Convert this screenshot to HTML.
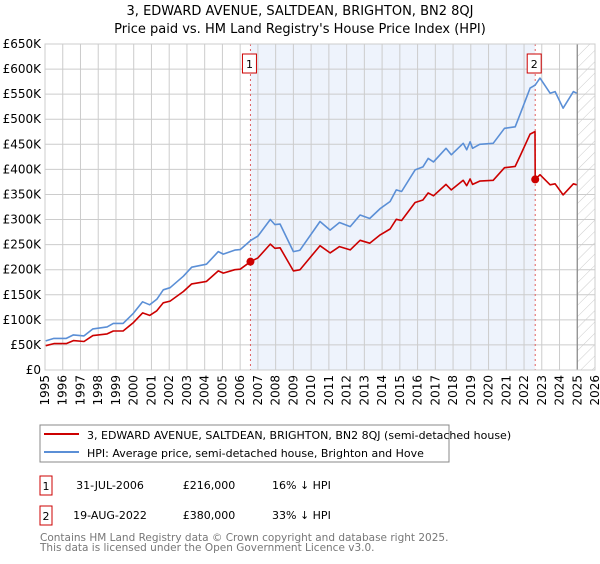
<!DOCTYPE html>
<html><head><meta charset="utf-8"><style>
body{margin:0;background:#fff;font-family:"DejaVu Sans","Liberation Sans",sans-serif;}
svg text{font-family:"DejaVu Sans","Liberation Sans",sans-serif;}
</style></head><body>
<svg id="chart" width="600" height="560" viewBox="0 0 600 560" xmlns="http://www.w3.org/2000/svg">
<defs><pattern id="hatch" width="8" height="8" patternUnits="userSpaceOnUse" patternTransform="rotate(45)"><line x1="0" y1="0" x2="0" y2="8" stroke="#ccc" stroke-width="1"/></pattern></defs>
<text x="300" y="15" text-anchor="middle" font-size="13">3, EDWARD AVENUE, SALTDEAN, BRIGHTON, BN2 8QJ</text>
<text x="300" y="33" text-anchor="middle" font-size="13">Price paid vs. HM Land Registry's House Price Index (HPI)</text>
<g id="plot"></g>
<rect x="40" y="425" width="409" height="37" fill="#fff" stroke="#888"/>
<line x1="44" y1="434" x2="79" y2="434" stroke="#cc0000" stroke-width="2"/>
<text x="87" y="439" font-size="11">3, EDWARD AVENUE, SALTDEAN, BRIGHTON, BN2 8QJ (semi-detached house)</text>
<line x1="44" y1="452" x2="79" y2="452" stroke="#5b8fd6" stroke-width="2"/>
<text x="87" y="457" font-size="11">HPI: Average price, semi-detached house, Brighton and Hove</text>
<rect x="40" y="476" width="12" height="19" fill="#fff" stroke="#cc0000"/>
<text x="46" y="490" text-anchor="middle" font-size="11">1</text>
<text x="110" y="489" text-anchor="middle" font-size="11">31-JUL-2006</text>
<text x="209" y="489" text-anchor="middle" font-size="11">£216,000</text>
<text x="272" y="489" font-size="11">16% ↓ HPI</text>
<rect x="40" y="506" width="12" height="19" fill="#fff" stroke="#cc0000"/>
<text x="46" y="520" text-anchor="middle" font-size="11">2</text>
<text x="110" y="519" text-anchor="middle" font-size="11">19-AUG-2022</text>
<text x="209" y="519" text-anchor="middle" font-size="11">£380,000</text>
<text x="272" y="519" font-size="11">33% ↓ HPI</text>
<text x="40" y="541" font-size="10.5" fill="#777">Contains HM Land Registry data © Crown copyright and database right 2025.</text>
<text x="40" y="551" font-size="10.5" fill="#777">This data is licensed under the Open Government Licence v3.0.</text>
</svg>
<script>
const hpiYears=[1995.04,1995.5,1996.2,1996.6,1997.2,1997.7,1998.5,1998.85,1999.4,1999.98,2000.5,2000.9,2001.3,2001.67,2002.05,2002.8,2003.27,2004.1,2004.77,2005.05,2005.7,2006,2006.58,2007.0,2007.7,2007.96,2008.25,2009,2009.28,2009.37,2010.5,2011.07,2011.6,2012.2,2012.76,2013.3,2013.9,2014.45,2014.8,2015.1,2015.86,2016.3,2016.6,2016.9,2017.6,2017.9,2018.57,2018.77,2018.96,2019.1,2019.5,2020.26,2020.9,2021.5,2021.8,2022.34,2022.63,2022.9,2023.47,2023.75,2024.2,2024.78,2024.97];
const hpiValues=[58,63,63,70,68,82,86,93,93,113,136,130,141,160,164,187,205,211,236,231,239,240,258,267,300,290,291,236,238,239,296,279,294,286,309,302,322,336,359,356,399,405,422,415,442,429,452,439,455,442,450,452,482,485,512,562,568,582,552,555,522,555,552];
const priceYears=[1995.04,1995.5,1996.2,1996.6,1997.2,1997.7,1998.5,1998.85,1999.4,1999.98,2000.5,2000.9,2001.3,2001.67,2002.05,2002.8,2003.27,2004.1,2004.77,2005.05,2005.7,2006,2006.58,2007.0,2007.7,2007.96,2008.25,2009,2009.28,2009.37,2010.5,2011.07,2011.6,2012.2,2012.76,2013.3,2013.9,2014.45,2014.8,2015.1,2015.86,2016.3,2016.6,2016.9,2017.6,2017.9,2018.57,2018.77,2018.96,2019.1,2019.5,2020.26,2020.9,2021.5,2021.8,2022.34,2022.62,2022.63,2022.9,2023.47,2023.75,2024.2,2024.78,2024.97];
const priceValues=[48.5,52.7,52.7,58.6,56.9,68.6,72,77.8,77.8,94.6,113.8,108.8,118,133.9,137.3,156.5,171.6,176.6,197.5,193.3,200,200.9,216,223.5,251.1,242.7,243.6,197.5,199.2,200,247.8,233.5,246.1,239.4,258.6,252.8,269.5,281.2,300.5,298,334,339,353.2,347.4,370,359.1,378.3,367.4,380.8,370,376.7,378.3,403.4,406,428.5,470.4,475.4,380,389.4,369.3,371.3,349.2,371.3,369.3];
const saleYears=[2006.58,2022.63];
const saleValues=[216,380];
const saleLabels=["1","2"];
const yTicks=[0,50,100,150,200,250,300,350,400,450,500,550,600,650];
const xTicks=[1995,1996,1997,1998,1999,2000,2001,2002,2003,2004,2005,2006,2007,2008,2009,2010,2011,2012,2013,2014,2015,2016,2017,2018,2019,2020,2021,2022,2023,2024,2025,2026];

const NS="http://www.w3.org/2000/svg";
const X0=45,X1=595,Y0=370,Y1=44;
const xs=y=>X0+(y-1995)/(2026-1995)*(X1-X0);
const ys=v=>Y0-v/650*(Y0-Y1);
const g=document.getElementById('plot');
function mk(t,a){const e=document.createElementNS(NS,t);for(const k in a)e.setAttribute(k,a[k]);g.appendChild(e);return e;}

let r=mk('rect',{x:xs(saleYears[0]),y:Y1,width:xs(saleYears[1])-xs(saleYears[0]),height:Y0-Y1,fill:'#eef3fc'});


let h=mk('rect',{x:xs(2025),y:Y1,width:X1-xs(2025),height:Y0-Y1,fill:'url(#hatch)'});



yTicks.forEach(v=>{
  let l=mk('line',{x1:X0,x2:X1,y1:ys(v),y2:ys(v),stroke:'#ccc','stroke-width':1});
  
  
  let t=mk('text',{x:X0-4,y:ys(v)+4,'text-anchor':'end','font-size':12});
  
  
  t.textContent=v===0?'£0':'£'+v+'K';
});
xTicks.forEach(yr=>{
  let l=mk('line',{x1:xs(yr),x2:xs(yr),y1:Y1,y2:Y0,stroke:'#ccc','stroke-width':1});
  
  
  let t=mk('text',{x:0,y:0,'text-anchor':'end','font-size':12,transform:`translate(${xs(yr)+4},${Y0+5}) rotate(-90)`});
  
  
  t.textContent=yr;
});
let vl=mk('line',{x1:xs(2025),x2:xs(2025),y1:Y1,y2:Y0,stroke:'#888','stroke-width':1.2});



saleYears.forEach((yr,i)=>{
  let l=mk('line',{x1:xs(yr),x2:xs(yr),y1:Y1,y2:Y0,stroke:'#e06060','stroke-width':1,'stroke-dasharray':'2,3'});
  
  
});

function path(xa,va,col,name){
  const d=xa.map((x,i)=>(i?'L':'M')+xs(x).toFixed(1)+','+ys(va[i]).toFixed(1)).join('');
  let p=mk('path',{d:d,fill:'none',stroke:col,'stroke-width':1.6,'stroke-linejoin':'round'});
  
  
}
path(hpiYears,hpiValues,'#5b8fd6','hpi-line');
path(priceYears,priceValues,'#cc0000','price-paid-line');

saleYears.forEach((yr,i)=>{
  let c=mk('circle',{cx:xs(yr),cy:ys(saleValues[i]),r:4,fill:'#cc0000'});
  
  
  let b=mk('rect',{x:xs(yr)-8,y:54,width:14,height:19,fill:'#fff',stroke:'#cc0000'});
  
  
  let t=mk('text',{x:xs(yr)-1,y:68,'text-anchor':'middle','font-size':11});
  
  
  t.textContent=saleLabels[i];
});
let f=mk('rect',{x:X0,y:Y1,width:X1-X0,height:Y0-Y1,fill:'none',stroke:'#ccc'});


</script>
</body></html>
